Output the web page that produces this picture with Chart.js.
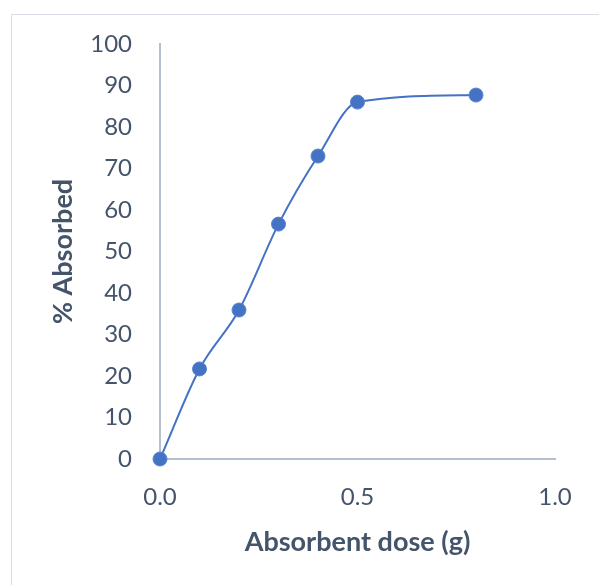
<!DOCTYPE html>
<html>
<head>
<meta charset="utf-8">
<script src="https://cdn.jsdelivr.net/npm/chart.js@4"></script>
<style>
  html, body { margin: 0; padding: 0; background: #fff; overflow: hidden; }
  #wrap { position: relative; width: 599px; height: 585px; }
  #frame { position: absolute; left: 11px; top: 14px; width: 600px; height: 600px; border: 1px solid #d9dde5; }
  canvas { position: absolute; left: 0; top: 0; }
</style>
</head>
<body>
<div id="wrap">
  <div id="frame"></div>
  <canvas id="chart" width="599" height="585"></canvas>
</div>
<script>
// Data
const doses = [0, 0.1, 0.2, 0.3, 0.4, 0.5, 0.8];
const absorbed = [0, 21.7, 35.9, 56.6, 73.0, 86.0, 87.7];
const xTicks = [0, 0.5, 1.0];
const yMin = 0, yMax = 100, yStep = 10;

const textColor = "#44546a";
const axisColor = "#b4bfd0";
const blue = "#4472c4";

const ctx = document.getElementById("chart").getContext("2d");

new Chart(ctx, {
  type: "line",
  data: {
    datasets: [{
      data: doses.map((d, i) => ({ x: d, y: absorbed[i] })),
      borderColor: blue,
      borderWidth: 2,
      backgroundColor: blue,
      pointBackgroundColor: blue,
      pointBorderColor: "#5a84cc",
      pointBorderWidth: 1,
      pointRadius: 7,
      cubicInterpolationMode: "monotone",
      clip: false,
      fill: false
    }]
  },
  options: {
    responsive: false,
    animation: false,
    events: [],
    layout: { padding: { left: 43, top: 44, right: 44, bottom: 23 } },
    plugins: { legend: { display: false }, tooltip: { enabled: false } },
    scales: {
      x: {
        type: "linear",
        min: 0,
        max: 1,
        afterBuildTicks: s => { s.ticks = xTicks.map(v => ({ value: v })); },
        afterFit: s => { s.height = 103; },
        grid: { display: false, drawTicks: false },
        border: { display: true, color: axisColor, width: 2 },
        ticks: {
          padding: 24,
          color: textColor,
          font: { family: "Lato", size: 24 },
          callback: v => Number(v).toFixed(1)
        },
        title: {
          display: true,
          text: "Absorbent dose (g)",
          color: textColor,
          font: { family: "Lato", size: 27, weight: "bold" }
        }
      },
      y: {
        min: yMin,
        max: yMax,
        afterFit: s => { s.width = 117; },
        grid: { display: false, drawTicks: false },
        border: { display: true, color: axisColor, width: 2 },
        ticks: {
          stepSize: yStep,
          padding: 28,
          color: textColor,
          font: { family: "Lato", size: 24 }
        },
        title: {
          display: true,
          text: "% Absorbed",
          color: textColor,
          font: { family: "Lato", size: 27, weight: "bold" }
        }
      }
    }
  }
});
</script>
</body>
</html>
